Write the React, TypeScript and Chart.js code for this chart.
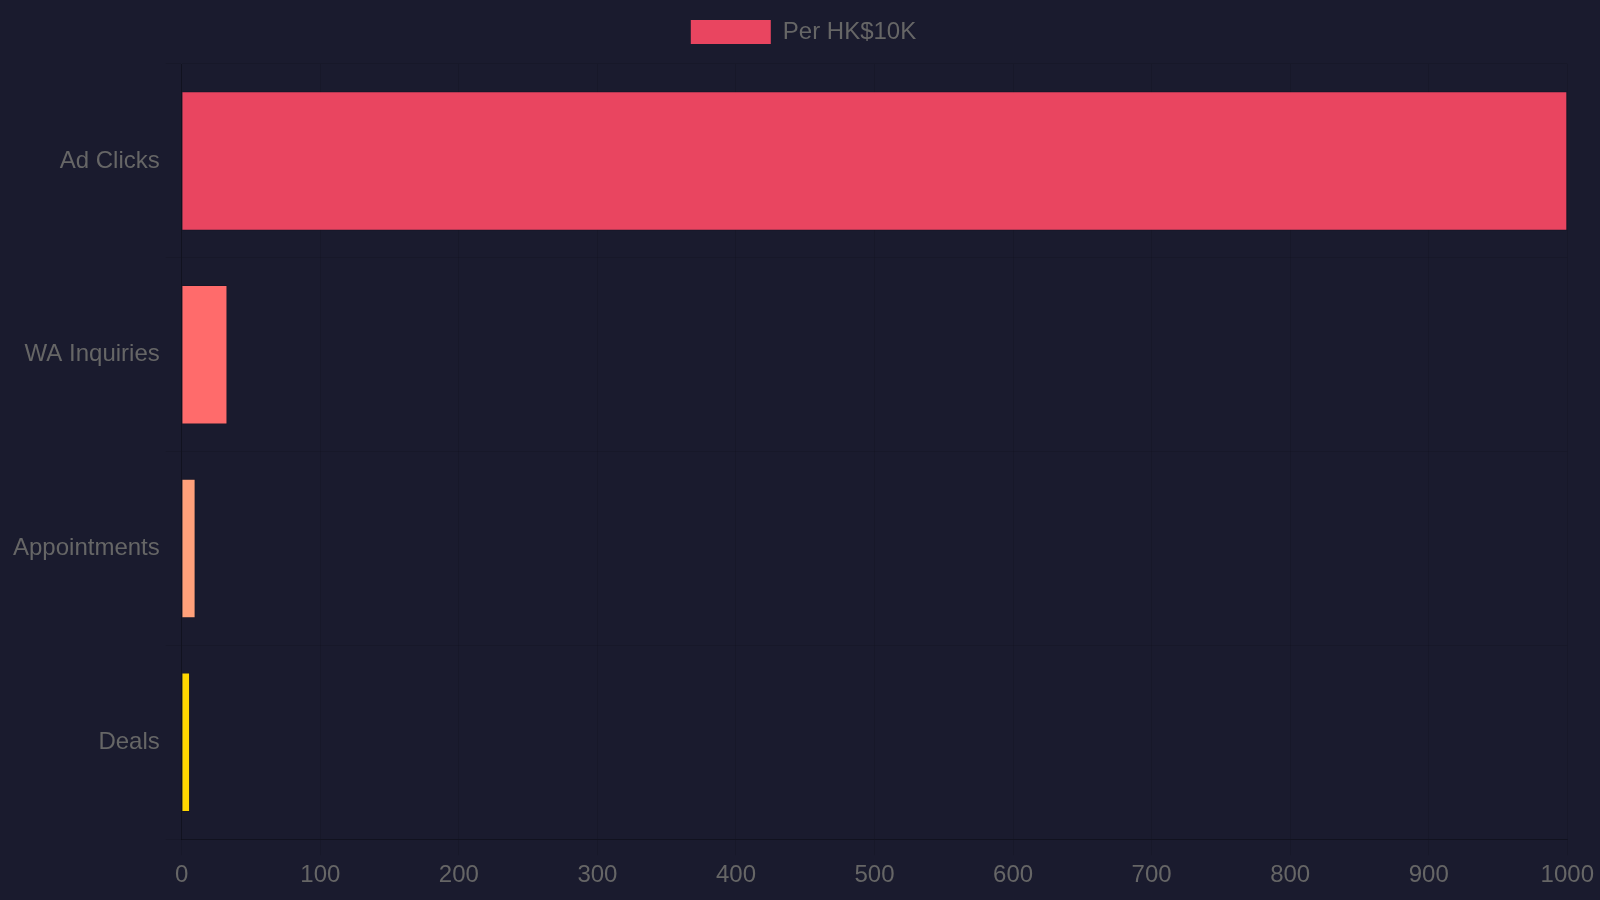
import React, { useEffect, useRef } from "react";
import { Chart, registerables } from "chart.js";

Chart.register(...registerables);

const categories = ["Ad Clicks", "WA Inquiries", "Appointments", "Deals"];
const seriesLabel = "Per HK$10K";
const seriesValues = [1000, 33, 10, 6];
const barColors = ["#e94560", "#ff6b6b", "#ffa07a", "#ffd700"];
const xTicks = [0, 100, 200, 300, 400, 500, 600, 700, 800, 900, 1000];

const legendSpacing = {
  id: "legendSpacing",
  beforeInit(chart: any) {
    const orig = chart.legend.fit;
    chart.legend.fit = function () {
      orig.call(this);
      this.height += 10;
    };
  },
};

export default function App() {
  const ref = useRef<HTMLCanvasElement | null>(null);

  useEffect(() => {
    document.body.style.margin = "0";
    document.body.style.background = "#1a1b2e";
    if (!ref.current) return;
    const chart = new Chart(ref.current, {
      type: "bar",
      data: {
        labels: categories,
        datasets: [
          {
            label: seriesLabel,
            data: seriesValues,
            backgroundColor: barColors,
            borderColor: "rgba(0,0,0,0.15)",
            borderWidth: 1,
          },
        ],
      },
      plugins: [legendSpacing],
      options: {
        indexAxis: "y",
        animation: false,
        responsive: true,
        maintainAspectRatio: false,
        color: "#666",
        font: { family: "'Liberation Sans', Arial, sans-serif", size: 24 },
        plugins: {
          legend: {
            labels: {
              boxWidth: 80,
              boxHeight: 24,
              padding: 20,
              color: "#666",
              font: { size: 24 },
              generateLabels: () => [
                {
                  text: seriesLabel,
                  fillStyle: barColors[0],
                  strokeStyle: "rgba(0,0,0,0.15)",
                  lineWidth: 0,
                  hidden: false,
                  datasetIndex: 0,
                  fontColor: "#666",
                },
              ],
            },
          },
          tooltip: { enabled: false },
        },
        scales: {
          x: {
            min: xTicks[0],
            max: xTicks[xTicks.length - 1],
            afterBuildTicks: (axis: any) => {
              axis.ticks = xTicks.map((v) => ({ value: v }));
            },
            grid: { color: "rgba(0,0,0,0.1)", tickLength: 16 },
            border: { color: "rgba(0,0,0,0.25)" },
            ticks: {
              color: "#666",
              padding: 6,
              font: { size: 24 },
              callback: (v: any) => String(v),
            },
          },
          y: {
            grid: { color: "rgba(0,0,0,0.1)", tickLength: 16 },
            border: { color: "rgba(0,0,0,0.25)" },
            ticks: { color: "#666", padding: 6, font: { size: 24 } },
          },
        },
      },
    });
    return () => chart.destroy();
  }, []);

  return (
    <div
      style={{
        position: "absolute",
        left: 7,
        top: 0,
        width: 1593,
        height: 896,
        background: "#1a1b2e",
      }}
    >
      <canvas ref={ref} />
    </div>
  );
}
